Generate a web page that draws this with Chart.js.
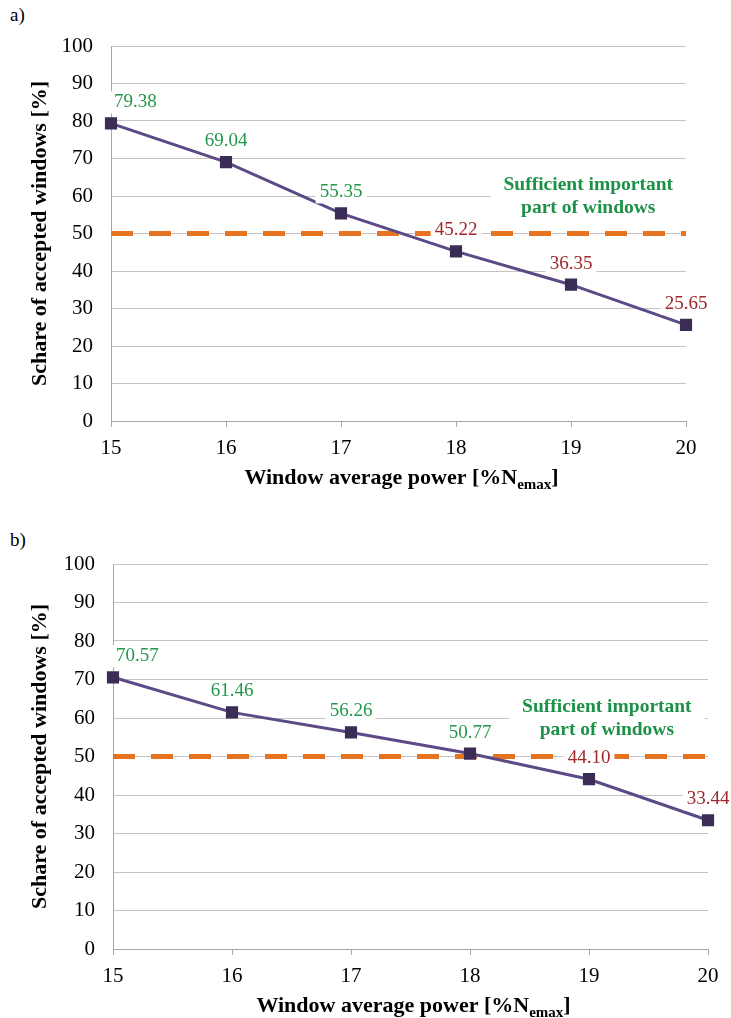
<!DOCTYPE html>
<html>
<head>
<meta charset="utf-8">
<script src="https://cdn.jsdelivr.net/npm/chart.js@4.4.0/dist/chart.umd.min.js"></script>
<style>
body { margin: 0; background: #fff; width: 731px; height: 1018px; position: relative; overflow: hidden; font-family: "Liberation Serif", serif; }
.panel { position: absolute; left: 0; width: 731px; height: 500px; }
.tag { position: absolute; left: 10px; font-size: 19px; color: #000; }
</style>
</head>
<body>
<div class="tag" style="top:4px">a)</div>
<div class="panel" style="top:0"><canvas id="chartA"></canvas></div>
<div class="tag" style="top:529px">b)</div>
<div class="panel" style="top:518px"><canvas id="chartB"></canvas></div>
<script>
const powerLabels = ["15", "16", "17", "18", "19", "20"];
const acceptedA = [79.38, 69.04, 55.35, 45.22, 36.35, 25.65];
const acceptedB = [70.57, 61.46, 56.26, 50.77, 44.10, 33.44];
const threshold = [50, 50, 50, 50, 50, 50];
const noteLines = ["Sufficient important", "part of windows"];
const notePos = { x: 4.15, y: 60 };

const serif = '"Liberation Serif", "Times New Roman", serif';
const green = "#22984b";
const red = "#a0282c";

// draws value labels, the note box and the x title (needs a subscript)
const extras = {
    id: "extras",
    beforeDatasetsDraw(chart) {
        const ctx = chart.ctx;
        const x = chart.scales.x, y = chart.scales.y;
        const cx = x.getPixelForValue(notePos.x);
        const cy = y.getPixelForValue(notePos.y);
        ctx.save();
        ctx.font = "bold 19.5px " + serif;
        const w = Math.max(...noteLines.map(t => ctx.measureText(t).width));
        ctx.fillStyle = "#fff";
        ctx.fillRect(cx - w / 2 - 13, cy - 24, w + 26, 48);
        ctx.fillStyle = "#1d9148";
        ctx.textAlign = "center";
        ctx.textBaseline = "middle";
        ctx.fillText(noteLines[0], cx, cy - 11);
        ctx.fillText(noteLines[1], cx, cy + 12);
        ctx.restore();
    },
    afterDatasetsDraw(chart) {
        const ctx = chart.ctx;
        const meta = chart.getDatasetMeta(0);
        const values = chart.data.datasets[0].data;
        ctx.save();
        ctx.font = "19px " + serif;
        ctx.textBaseline = "middle";
        meta.data.forEach((pt, i) => {
            const txt = values[i].toFixed(2);
            const w = ctx.measureText(txt).width;
            let tx = pt.x, align = "center";
            if (i === 0) { tx = pt.x + 3; align = "left"; }
            const ty = pt.y - 21;
            const bx = align === "left" ? tx - 3 : tx - w / 2 - 4;
            ctx.fillStyle = "#fff";
            ctx.fillRect(bx, ty - 11, w + 8, 22);
            ctx.fillStyle = values[i] >= 50 ? green : red;
            ctx.textAlign = align;
            ctx.fillText(txt, tx, ty);
        });

        // x axis title with subscript
        const area = chart.chartArea;
        const main = "Window average power [%N", sub = "emax", tail = "]";
        ctx.fillStyle = "#000";
        ctx.textAlign = "left";
        ctx.textBaseline = "alphabetic";
        ctx.font = "bold 22px " + serif;
        const w1 = ctx.measureText(main).width, w3 = ctx.measureText(tail).width;
        ctx.font = "bold 15px " + serif;
        const w2 = ctx.measureText(sub).width;
        let sx = (area.left + area.right) / 2 - (w1 + w2 + w3) / 2 + 3;
        const base = area.bottom + 63;
        ctx.font = "bold 22px " + serif;
        ctx.fillText(main, sx, base);
        ctx.font = "bold 15px " + serif;
        ctx.fillText(sub, sx + w1, base + 5);
        ctx.font = "bold 22px " + serif;
        ctx.fillText(tail, sx + w1 + w2, base);
        ctx.restore();
    }
};

const makeChart = (id, values, box) => {
    const ctx = document.getElementById(id).getContext("2d");
    return new Chart(ctx, {
        type: "line",
        data: {
            labels: powerLabels,
            datasets: [
                {
                    data: values,
                    borderColor: "#5c4a86",
                    borderWidth: 3,
                    pointStyle: "rect",
                    pointRadius: 6.5,
                    pointBackgroundColor: "#3b2d55",
                    pointBorderColor: "#3b2d55",
                    tension: 0,
                },
                {
                    data: threshold,
                    borderColor: "#e8731f",
                    borderWidth: 5,
                    borderDash: [22, 16],
                    pointRadius: 0,
                },
            ],
        },
        options: {
            responsive: true,
            maintainAspectRatio: false,
            animation: false,
            layout: { padding: { left: 0, right: 731 - box.right, top: box.top, bottom: 0 } },
            plugins: { legend: { display: false }, tooltip: { enabled: false } },
            scales: {
                x: {
                    offset: false,
                    grid: { drawOnChartArea: false, drawTicks: true, tickLength: 6, color: "#a6a6a6" },
                    border: { color: "#a6a6a6" },
                    ticks: { color: "#000", font: { family: serif, size: 21 }, padding: 9, maxRotation: 0 },
                    afterFit: s => { s.height = 500 - box.bottom; },
                },
                y: {
                    min: 0,
                    max: 100,
                    grid: { drawTicks: false, color: "#c3c3c3" },
                    border: { color: "#a6a6a6" },
                    ticks: { stepSize: 10, color: "#000", font: { family: serif, size: 21 }, padding: 18 },
                    title: {
                        display: true,
                        text: "Schare of accepted windows [%]",
                        color: "#000",
                        font: { family: serif, size: 22, weight: "bold" },
                        padding: { top: 27, bottom: 0 },
                    },
                    afterFit: s => { s.width = box.left; },
                },
            },
        },
        plugins: [extras],
    });
};

makeChart("chartA", acceptedA, { left: 111, right: 686, top: 46, bottom: 421 });
makeChart("chartB", acceptedB, { left: 113, right: 708, top: 46, bottom: 431 });
</script>
</body>
</html>
